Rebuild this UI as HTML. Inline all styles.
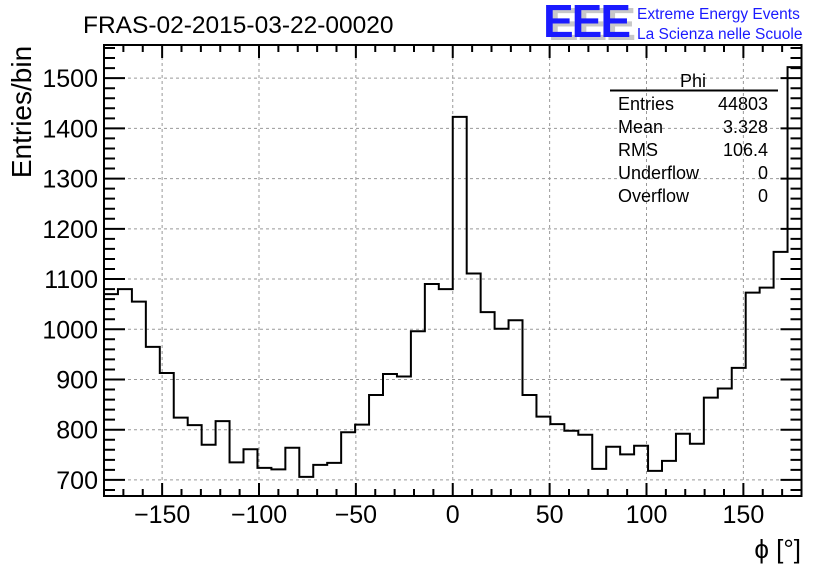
<!DOCTYPE html>
<html><head><meta charset="utf-8"><style>
body{margin:0;background:#fff;}
svg{display:block;font-family:"Liberation Sans",sans-serif;}
</style></head><body>
<svg id="c" width="836" height="572" viewBox="0 0 836 572">
<rect width="836" height="572" fill="#fff"/>
<text x="83" y="33" font-size="24.5">FRAS-02-2015-03-22-00020</text>
<g>
<text x="548" y="40" font-size="46" font-weight="bold" fill="#c8c8c8" letter-spacing="-2">EEE</text>
<text x="543" y="37" font-size="46" font-weight="bold" fill="#1a1aff" letter-spacing="-2">EEE</text>
<text x="637" y="19" font-size="15.5" fill="#1a1aff">Extreme Energy Events</text>
<text x="637" y="39" font-size="15.5" fill="#1a1aff">La Scienza nelle Scuole</text>
</g>
<g id="grid"></g>
<g id="ticks"></g>
<path id="hist" fill="none" stroke="#000" stroke-width="2"/>
<rect x="104" y="45" width="697.5" height="451" fill="none" stroke="#000" stroke-width="2"/>
<g id="labels" font-size="25"></g>
<text transform="translate(31,112) rotate(-90)" text-anchor="middle" font-size="28">Entries/bin</text>
<text x="801" y="558" text-anchor="end" font-size="26">ϕ [°]</text>
<g font-size="18">
<text x="693" y="87" text-anchor="middle">Phi</text>
<line x1="610" y1="90.5" x2="778" y2="90.5" stroke="#000" stroke-width="2"/>
<text x="618" y="110">Entries</text><text x="768" y="110" text-anchor="end">44803</text>
<text x="618" y="133">Mean</text><text x="768" y="133" text-anchor="end">3.328</text>
<text x="618" y="156">RMS</text><text x="768" y="156" text-anchor="end">106.4</text>
<text x="618" y="179">Underflow</text><text x="768" y="179" text-anchor="end">0</text>
<text x="618" y="202">Overflow</text><text x="768" y="202" text-anchor="end">0</text>
</g>
</svg>
<script>
const binStart = -180;
const binWidth = 7.2;
const counts = [1070,1080,1055,965,913,824,809,770,817,735,761,724,721,764,706,730,734,795,810,869,911,906,996,1090,1080,
1423,1111,1034,1001,1018,869,826,811,798,790,722,766,751,768,718,738,792,772,864,882,923,1073,1083,1154,1522];
const xTicks = [-150,-100,-50,0,50,100,150];
const yTicks = [700,800,900,1000,1100,1200,1300,1400,1500];
const NS='http://www.w3.org/2000/svg';
const X0=104, X1=801.5, Y0=496, Y1=45;
const xMin=-180, xMax=180, yMin=668, yMax=1566;
const sx=v=>X0+(v-xMin)/(xMax-xMin)*(X1-X0);
const sy=v=>Y0-(v-yMin)/(yMax-yMin)*(Y0-Y1);
function mk(tag,attrs,parent){const e=document.createElementNS(NS,tag);for(const k in attrs)e.setAttribute(k,attrs[k]);parent.appendChild(e);return e;}
const grid=document.getElementById('grid'),ticks=document.getElementById('ticks'),labels=document.getElementById('labels');
xTicks.forEach(t=>{
  const g=mk('line',{x1:sx(t),x2:sx(t),y1:Y1,y2:Y0,stroke:'#999','stroke-dasharray':'3,3'},grid);
  
  
  const l=mk('text',{x:sx(t),y:523,'text-anchor':'middle'},labels);
  l.textContent=(t<0?'\u2212'+(-t):String(t));
  
  
});
yTicks.forEach(t=>{
  const g=mk('line',{x1:X0,x2:X1,y1:sy(t),y2:sy(t),stroke:'#999','stroke-dasharray':'3,3'},grid);
  
  
  const l=mk('text',{x:98,y:sy(t)+9,'text-anchor':'end'},labels);
  l.textContent=String(t);
  
  
});
let d='';
for(let v=-180;v<=180;v+=10){const maj=v%50===0;const h=maj?13:7;const x=sx(v);
  d+=`M${x},${Y0}v${-h}M${x},${Y1}v${h}`;}
for(let v=680;v<=1560;v+=20){const maj=v%100===0;const w=maj?21:11;const y=sy(v);
  d+=`M${X0},${y}h${w}M${X1},${y}h${-w}`;}
const tp=mk('path',{d:d,stroke:'#000','stroke-width':2,fill:'none'},ticks);


let hd='';
counts.forEach((c,i)=>{const xa=sx(binStart+i*binWidth),xb=sx(binStart+(i+1)*binWidth),y=sy(c);
  hd+=(i===0?`M${xa},${y}`:`L${xa},${y}`)+`L${xb},${y}`;});
document.getElementById('hist').setAttribute('d',hd);
</script>
</body></html>
